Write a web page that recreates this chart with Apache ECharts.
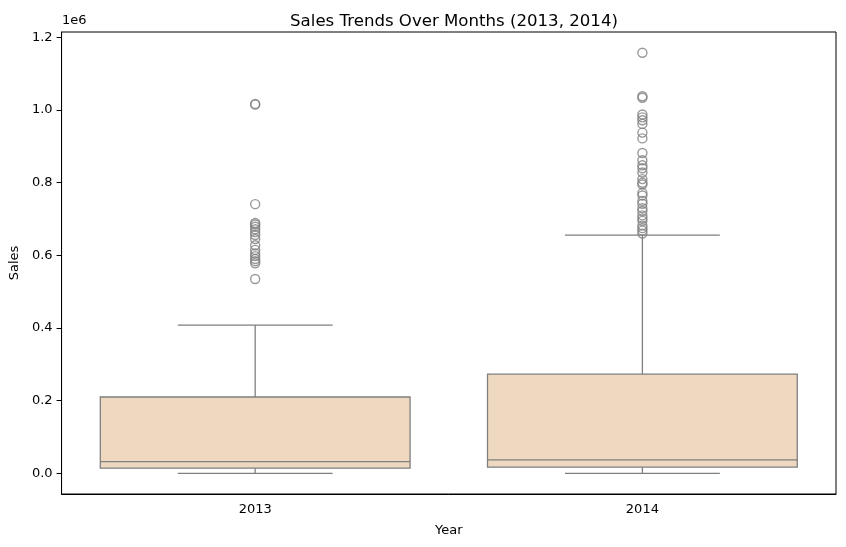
<!DOCTYPE html>
<html>
<head>
<meta charset="utf-8">
<script src="https://cdn.jsdelivr.net/npm/echarts@6/dist/echarts.min.js"></script>
<style>
  html, body { margin: 0; padding: 0; background: #fff; }
  #chart { width: 846px; height: 547px; }
</style>
</head>
<body>
<div id="chart"></div>
<script>
// box stats per year (sales)
const years = ['2013', '2014'];
const minVals = [0, 0];
const q1Vals = [14000, 17000];
const medianVals = [32000, 37000];
const q3Vals = [210000, 273000];
const maxVals = [408000, 656000];

// outliers
const outliers2013 = [1017000, 1015000, 741000, 689000, 685000, 679000, 672000, 664000, 656000, 645000,
    628000, 615000, 605000, 598000, 590000, 584000, 578000, 535000];
const outliers2014 = [1158000, 1038000, 1034000, 988000, 980000, 972000, 962000, 938000, 922000, 882000,
    862000, 848000, 840000, 828000, 810000, 800000, 795000, 772000, 765000, 750000,
    742000, 730000, 722000, 710000, 702000, 695000, 682000, 675000, 668000, 660000];

const yTicks = [0, 200000, 400000, 600000, 800000, 1000000, 1200000];

const lineColor = '#7f7f7f';
const boxColor = '#EED9C0';
const font = 'DejaVu Sans';

const boxData = years.map((y, i) => [i, minVals[i], q1Vals[i], medianVals[i], q3Vals[i], maxVals[i]]);
const outlierData = []
outliers2013.forEach(v => outlierData.push([0, v]))
outliers2014.forEach(v => outlierData.push([1, v]))

var chart = echarts.init(document.getElementById('chart'));
var option = {
    animation: false,
    title: {
        text: 'Sales Trends Over Months (2013, 2014)',
        left: 449,
        top: 8,
        textAlign: 'center',
        textStyle: { fontFamily: font, fontSize: 16.6, fontWeight: 'normal', color: '#000' }
    },
    graphic: [{
        type: 'text',
        left: 62,
        top: 14,
        style: { text: '1e6', font: '13px "DejaVu Sans"', fill: '#000' }
    }],
    grid: {
        left: 61, right: 10, top: 32, bottom: 53,
        show: true, borderColor: '#000', borderWidth: 1, backgroundColor: 'transparent'
    },
    xAxis: {
        type: 'category',
        data: years,
        name: 'Year',
        nameLocation: 'middle',
        nameGap: 30,
        nameTextStyle: { fontFamily: font, fontSize: 13, color: '#000' },
        axisLine: { onZero: false, lineStyle: { color: '#000', width: 1 } },
        axisTick: { alignWithLabel: true, length: 5, lineStyle: { color: '#000' } },
        axisLabel: { fontFamily: font, fontSize: 13, color: '#000', margin: 9 },
        splitLine: { show: false }
    },
    yAxis: {
        type: 'value',
        min: -57000,
        max: 1215000,
        name: 'Sales',
        nameLocation: 'middle',
        nameGap: 40,
        nameTextStyle: { fontFamily: font, fontSize: 13, color: '#000' },
        axisLine: { show: true, onZero: false, lineStyle: { color: '#000', width: 1 } },
        axisTick: { show: true, length: 5, customValues: yTicks, lineStyle: { color: '#000' } },
        axisLabel: {
            fontFamily: font, fontSize: 13, color: '#000', margin: 9,
            customValues: yTicks,
            formatter: v => (v / 1e6).toFixed(1)
        },
        splitLine: { show: false }
    },
    series: [
        {
            type: 'custom',
            data: boxData,
            encode: { x: 0, y: [1, 2, 3, 4, 5] },
            renderItem: function (params, api) {
                const x = api.value(0);
                const band = api.size([1, 0])[0];
                const half = band * 0.4;   //盒子宽度 80%
                const cap = band * 0.2;
                const pMin = api.coord([x, api.value(1)]);
                const pQ1 = api.coord([x, api.value(2)]);
                const pMed = api.coord([x, api.value(3)]);
                const pQ3 = api.coord([x, api.value(4)]);
                const pMax = api.coord([x, api.value(5)]);
                const cx = pQ1[0];
                const ls = { stroke: lineColor, lineWidth: 1.3 };
                return {
                    type: 'group',
                    children: [
                        { type: 'line', shape: { x1: cx, y1: pQ3[1], x2: cx, y2: pMax[1] }, style: ls },
                        { type: 'line', shape: { x1: cx, y1: pQ1[1], x2: cx, y2: pMin[1] }, style: ls },
                        { type: 'line', shape: { x1: cx - cap, y1: pMax[1], x2: cx + cap, y2: pMax[1] }, style: ls },
                        { type: 'line', shape: { x1: cx - cap, y1: pMin[1], x2: cx + cap, y2: pMin[1] }, style: ls },
                        {
                            type: 'rect',
                            shape: { x: cx - half, y: pQ3[1], width: half * 2, height: pQ1[1] - pQ3[1] },
                            style: { fill: boxColor, stroke: lineColor, lineWidth: 1.3 }
                        },
                        { type: 'line', shape: { x1: cx - half, y1: pMed[1], x2: cx + half, y2: pMed[1] }, style: ls }
                    ]
                };
            }
        },
        {
            type: 'scatter',
            data: outlierData,
            symbol: 'circle',
            symbolSize: 9,
            itemStyle: { color: 'rgba(0,0,0,0)', borderColor: lineColor, borderWidth: 1.4 }
        }
    ]
};
chart.setOption(option);
</script>
</body>
</html>
